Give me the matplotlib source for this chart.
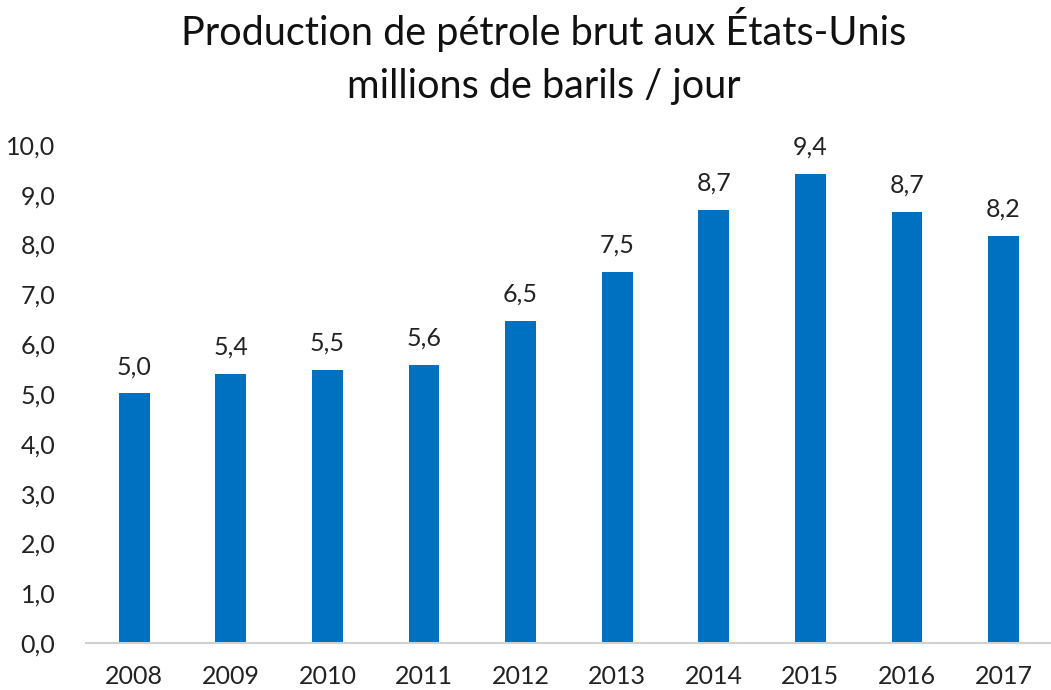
#!/usr/bin/env python3
"""US crude oil production bar chart, 2008-2017."""

import numpy as np
import matplotlib
matplotlib.use("Agg")
import matplotlib.pyplot as plt

years = ["2008", "2009", "2010", "2011", "2012",
         "2013", "2014", "2015", "2016", "2017"]
production = [5.01, 5.41, 5.49, 5.59, 6.47, 7.45, 8.70, 9.42, 8.66, 8.18]
yticks = np.arange(0, 10.1, 1.0)

plt.rcParams["font.family"] = ["Lato", "DejaVu Sans"]

fig = plt.figure(figsize=(10.51, 6.90), dpi=100)
ax = fig.add_axes([0.0818, 0.068, 0.919, 0.722])

x = np.arange(len(years))
bars = ax.bar(x, production, width=0.32, color="#0070C0")

# value labels above bars, French decimal comma
for rect, val in zip(bars, production):
    ax.text(rect.get_x() + rect.get_width() / 2, val + 0.3,
            f"{val:.1f}".replace(".", ","),
            ha="center", va="bottom", fontsize=18, color="#222222")

ax.set_xlim(-0.5, len(years) - 0.5)
ax.set_ylim(0, 10)
ax.set_xticks(x)
ax.set_xticklabels(years, fontsize=18, color="#222222")
ax.set_yticks(yticks)
ax.set_yticklabels([f"{v:.1f}".replace(".", ",") for v in yticks],
                   fontsize=18, color="#222222")
ax.tick_params(length=0, pad=22)
ax.tick_params(axis="x", pad=16)

for side in ["top", "right", "left"]:
    ax.spines[side].set_visible(False)
ax.spines["bottom"].set_color("#D0D0D0")
ax.spines["bottom"].set_linewidth(1.5)

fig.text(0.517, 0.99, "Production de pétrole brut aux États-Unis\nmillions de barils / jour",
         ha="center", va="top", fontsize=28.5, linespacing=1.55, color="#111111")

fig.savefig("out.png", dpi=100)
